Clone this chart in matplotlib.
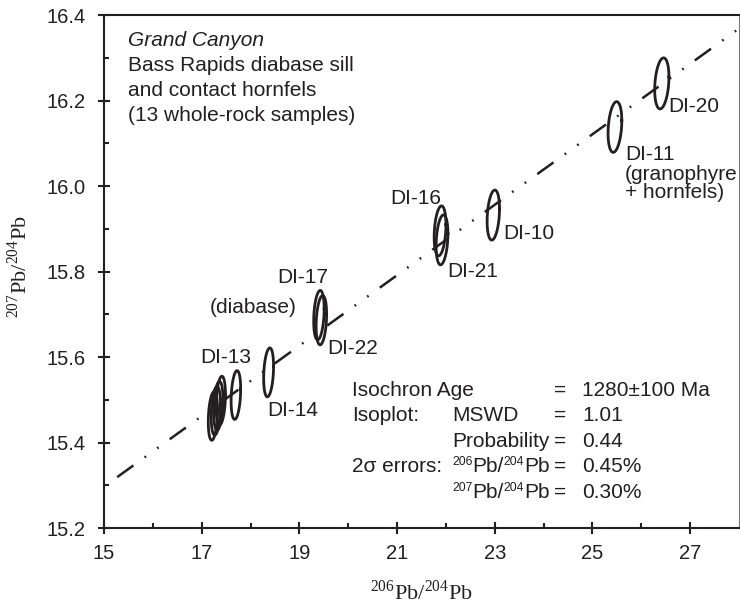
"""Bass Rapids diabase Pb-Pb isochron (207Pb/204Pb vs 206Pb/204Pb)."""
import numpy as np
import matplotlib
matplotlib.use("Agg")
import matplotlib.pyplot as plt
from matplotlib.transforms import offset_copy

plt.rcParams["font.family"] = ["Liberation Sans", "DejaVu Sans"]
plt.rcParams["mathtext.fontset"] = "custom"
plt.rcParams["mathtext.rm"] = "Liberation Serif"
plt.rcParams["mathtext.sf"] = "Liberation Sans"

INK = "#231f20"

# sample centres
samples = ["DI-20", "DI-11", "DI-10", "DI-16", "DI-21", "DI-17", "DI-22",
           "DI-14", "DI-13", "s10", "s11", "s12", "s13"]
pb206_204 = [26.42, 25.46, 22.97, 21.88, 21.92, 19.40, 19.45,
             18.37, 17.70, 17.23, 17.29, 17.34, 17.39]
pb207_204 = [16.240, 16.138, 15.932, 15.895, 15.874, 15.698, 15.686,
             15.564, 15.511, 15.462, 15.474, 15.486, 15.498]

# 2-sigma errors (%) and error correlation
err206_pct = 0.45
err207_pct = 0.30
err_rho = 0.25
conf_k = 2.45

# isochron end points
iso_x = [15.27, 27.96]
iso_y = [15.319, 16.365]

# sample labels: (text, x, baseline y, ha)
labels = [
    ("DI-20", 26.546, 16.172, "left"),
    ("DI-11", 25.665, 16.061, "left"),
    ("(granophyre", 25.665, 16.014, "left"),
    ("+ hornfels)", 25.665, 15.972, "left"),
    ("DI-10", 23.168, 15.875, "left"),
    ("DI-16", 20.855, 15.959, "left"),
    ("DI-21", 22.021, 15.786, "left"),
    ("DI-17", 18.541, 15.774, "left"),
    ("(diabase)", 18.951, 15.703, "right"),
    ("DI-22", 19.565, 15.608, "left"),
    ("DI-13", 16.965, 15.587, "left"),
    ("DI-14", 18.337, 15.461, "left"),
]

title_lines = ["Grand Canyon", "Bass Rapids diabase sill",
               "and contact hornfels", "(13 whole-rock samples)"]

# stats block; second column as (text, superscript?) runs
stats_col1 = ["Isochron Age", "Isoplot:", "", "2\u03c3 errors:", ""]
stats_col2 = [[], [("MSWD", False)], [("Probability", False)],
              [("206", True), ("Pb/", False), ("204", True), ("Pb", False)],
              [("207", True), ("Pb/", False), ("204", True), ("Pb", False)]]
stats_vals = ["1280\u00b1100 Ma", "1.01", "0.44", "0.45%", "0.30%"]


def ellipse_xy(cx, cy, n=120):
    t = np.linspace(0, 2 * np.pi, n)
    sx = cx * err206_pct / 200.0
    sy = cy * err207_pct / 200.0
    x = cx + conf_k * sx * np.cos(t)
    y = cy + conf_k * sy * (err_rho * np.cos(t) + np.sqrt(1 - err_rho ** 2) * np.sin(t))
    return x, y


def text_runs(fig, ax, x, y, runs, size):
    renderer = fig.canvas.get_renderer()
    dx = 0.0
    for s, sup in runs:
        fs = size * 0.58 if sup else size
        dy = size * 0.32 if sup else 0.0
        tr = offset_copy(ax.transData, fig=fig, x=dx, y=dy, units="points")
        t = ax.text(x, y, s, transform=tr, fontsize=fs, color=INK, va="baseline")
        dx += t.get_window_extent(renderer).width * 72.0 / fig.dpi


fig = plt.figure(figsize=(7.40, 6.07), dpi=100)
ax = fig.add_axes([104 / 740, 1 - 528 / 607, 635 / 740, 513 / 607])
ax.set_xlim(15, 28)
ax.set_ylim(15.2, 16.4)

ax.plot(iso_x, iso_y, color=INK, lw=1.8,
        linestyle=(0, (8, 5.5, 0.7, 5.5, 0.7, 5.5)))

for cx, cy in zip(pb206_204, pb207_204):
    ex, ey = ellipse_xy(cx, cy)
    ax.plot(ex, ey, color=INK, lw=2.0)

for text, x, y, ha in labels:
    ax.text(x, y, text, ha=ha, va="baseline", fontsize=15, color=INK)

y0 = 16.4 - (45.5 - 15) / 427.5
for i, line in enumerate(title_lines):
    ax.text(15.491, y0 - i * 25 / 427.5, line, fontsize=15, color=INK,
            va="baseline", style="italic" if i == 0 else "normal")

row_base = [395.5, 421, 446.5, 472, 497.5]
for c1, c2, v, yb in zip(stats_col1, stats_col2, stats_vals, row_base):
    y = 16.4 - (yb - 15) / 427.5
    ax.text(20.077, y, c1, fontsize=15, color=INK, va="baseline")
    text_runs(fig, ax, 22.124, y, c2, 15)
    ax.text(24.21, y, "=", fontsize=15, color=INK, va="baseline")
    ax.text(24.786, y, v, fontsize=15, color=INK, va="baseline")

ax.set_xticks(np.arange(15, 28, 2))
ax.set_xticks(np.arange(16, 28, 2), minor=True)
ax.set_yticks(np.arange(15.2, 16.41, 0.2))
ax.set_yticks(np.arange(15.3, 16.4, 0.2), minor=True)
ax.set_xticklabels([str(v) for v in range(15, 28, 2)])
ax.set_yticklabels(["%.1f" % v for v in np.arange(15.2, 16.41, 0.2)])
ax.tick_params(which="major", direction="inout", length=8.5, width=1.5,
               colors=INK, labelsize=14.5)
ax.tick_params(which="minor", direction="in", length=3.6, width=1.5, colors=INK)
ax.tick_params(axis="x", which="major", pad=7)
ax.tick_params(axis="y", which="major", pad=9)

for side in ["left", "bottom", "top"]:
    ax.spines[side].set_linewidth(1.5)
    ax.spines[side].set_color(INK)
ax.spines["right"].set_linewidth(0.8)
ax.spines["right"].set_color("#777777")

fig.text(421 / 740, 1 - 600 / 607, r"$^{\mathrm{206}}$Pb/$^{\mathrm{204}}$Pb",
         ha="center", va="baseline", fontsize=16, color=INK,
         family="Liberation Serif")
fig.text(20 / 740, 1 - 267 / 607, r"$^{\mathrm{207}}$Pb/$^{\mathrm{204}}$Pb",
         ha="center", va="center", rotation=90, fontsize=16, color=INK,
         family="Liberation Serif")

fig.savefig("out.png", dpi=100)
